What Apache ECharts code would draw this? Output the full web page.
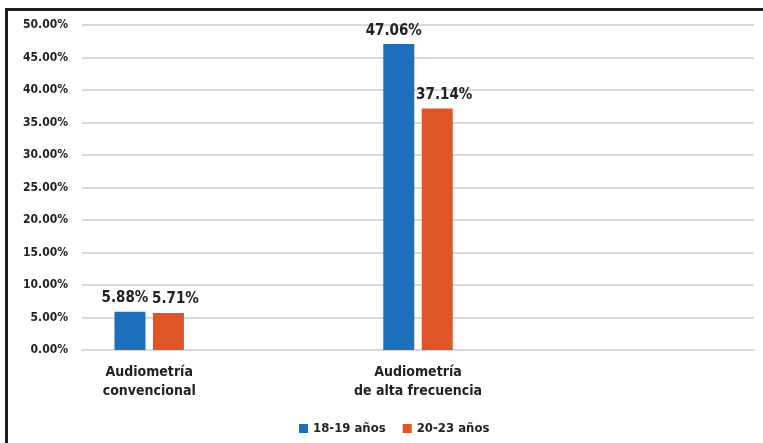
<!DOCTYPE html>
<html>
<head>
<meta charset="utf-8">
<script src="https://cdn.jsdelivr.net/npm/echarts@6/dist/echarts.min.js"></script>
<style>
  html, body { margin: 0; padding: 0; width: 763px; height: 443px; overflow: hidden; background: #fff; }
  #frame { position: absolute; left: 5px; top: 8px; width: 800px; height: 500px; border: 3px solid #1e1e1e; box-sizing: border-box; }
  #chart { position: absolute; left: 0; top: 0; width: 763px; height: 443px; }
</style>
</head>
<body>
<div id="frame"></div>
<div id="chart"></div>
<script>
// Category slots (the empty ones are unused slots in the source table)
const categories = ['Audiometría\nconvencional', '', 'Audiometría\nde alta frecuencia', '', ''];
const seriesNames = ['18-19 años', '20-23 años'];
const values1819 = [5.88, null, 47.06, null, null];
const values2023 = [5.71, null, 37.14, null, null];
const yTicks = { min: 0, max: 50, interval: 5 };

const FONT = '"Liberation Sans Narrow", "DejaVu Sans Condensed", "Liberation Sans", sans-serif';
const chart = echarts.init(document.getElementById('chart'), null, { renderer: 'canvas' });

const labelFmt = p => p.value == null ? '' : p.value.toFixed(2) + '%';

chart.setOption({
  backgroundColor: 'transparent',
  animation: false,
  grid: { left: 82, right: 9, top: 25, bottom: 93, containLabel: false },
  legend: {
    data: seriesNames,
    bottom: 3,
    left: 294,
    itemWidth: 9,
    itemHeight: 9,
    itemGap: 17,
    icon: 'rect',
    textStyle: { fontFamily: FONT, fontWeight: 'bold', fontSize: 13, color: '#222', padding: [0, 0, 0, 0] }
  },
  xAxis: {
    type: 'category',
    data: categories,
    axisLine: { show: true, lineStyle: { color: '#d9d9d9', width: 2 } },
    axisTick: { show: false },
    axisLabel: {
      interval: 0,
      margin: 13,
      fontFamily: FONT,
      fontWeight: 'bold',
      fontSize: 14,
      lineHeight: 19,
      color: '#222'
    }
  },
  yAxis: {
    type: 'value',
    min: yTicks.min,
    max: yTicks.max,
    interval: yTicks.interval,
    axisLine: { show: false },
    axisTick: { show: false },
    splitLine: { lineStyle: { color: '#d9d9d9', width: 2 } },
    axisLabel: {
      margin: 14,
      formatter: v => v.toFixed(2) + '%',
      fontFamily: FONT,
      fontWeight: 'bold',
      fontSize: 12,
      color: '#222'
    }
  },
  series: [
    {
      name: seriesNames[0],
      type: 'bar',
      data: values1819,
      barWidth: 31,
      barGap: '24%',
      itemStyle: { color: '#1c6fba' },
      label: {
        show: true, position: 'top', distance: 6, offset: [-5, 0],
        formatter: labelFmt,
        fontFamily: FONT, fontWeight: 'bold', fontSize: 15, color: '#222'
      }
    },
    {
      name: seriesNames[1],
      type: 'bar',
      data: values2023,
      barWidth: 31,
      itemStyle: { color: '#df5626' },
      label: {
        show: true, position: 'top', distance: 6, offset: [7, 0],
        formatter: labelFmt,
        fontFamily: FONT, fontWeight: 'bold', fontSize: 15, color: '#222'
      }
    }
  ]
});
</script>
</body>
</html>
